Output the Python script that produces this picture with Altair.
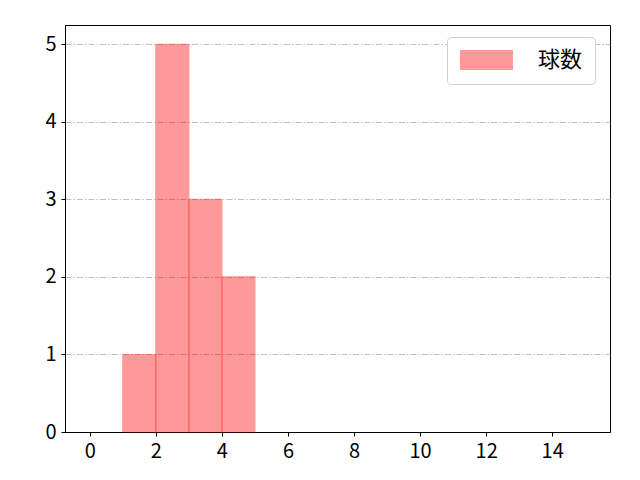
import altair as alt
import pandas as pd

bin_start = [1, 2, 3, 4]
bin_end = [2, 3, 4, 5]
counts = [1, 5, 3, 2]
series_name = "球数"
x_ticks = [0, 2, 4, 6, 8, 10, 12, 14]
y_ticks = [0, 1, 2, 3, 4, 5]

df = pd.DataFrame({"start": bin_start, "end": bin_end, "count": counts,
                   "series": [series_name] * len(counts)})

FONT = "Noto Sans CJK JP"

chart = alt.Chart(df).mark_rect(opacity=0.4, strokeWidth=1.2).encode(
    x=alt.X("start:Q", scale=alt.Scale(domain=[-0.75, 15.75], nice=False, zero=False),
            axis=alt.Axis(values=x_ticks, title=None, grid=False, format="d")),
    x2="end:Q",
    y=alt.Y("count:Q", scale=alt.Scale(domain=[0, 5.25], nice=False),
            axis=alt.Axis(values=y_ticks, title=None, grid=True, format="d",
                          gridColor="#b0b0b0", gridDash=[6, 2, 1.5, 2], gridWidth=0.8)),
    y2=alt.datum(0),
    color=alt.Color("series:N", scale=alt.Scale(range=["#ff0000"]),
                    legend=alt.Legend(title=None, orient="none", legendX=382, legendY=12,
                                      symbolType="M-1,-1L4.47,-1L4.47,1L-1,1Z",
                                      symbolSize=361, symbolOpacity=0.4,
                                      symbolStrokeColor="#ff0000", symbolStrokeWidth=1,
                                      labelFontSize=22, labelFont=FONT, labelColor="black",
                                      labelOffset=57,
                                      strokeColor="#d0d0d0", cornerRadius=4,
                                      padding=12, fillColor="white")),
    stroke=alt.value("#ff0000"),
).properties(
    width=545, height=407,
    autosize=alt.AutoSizeParams(type="none"),
    padding={"left": 57, "top": 17, "right": 22, "bottom": 40},
).configure_view(
    stroke="black", strokeWidth=1
).configure_axis(
    labelFont=FONT, labelFontSize=20, labelColor="black",
    domainColor="black", tickColor="black", tickSize=4, domainWidth=1, tickWidth=1,
    labelPadding=5,
)

chart.save("out.html", embed_options={"renderer": "svg", "actions": False})
